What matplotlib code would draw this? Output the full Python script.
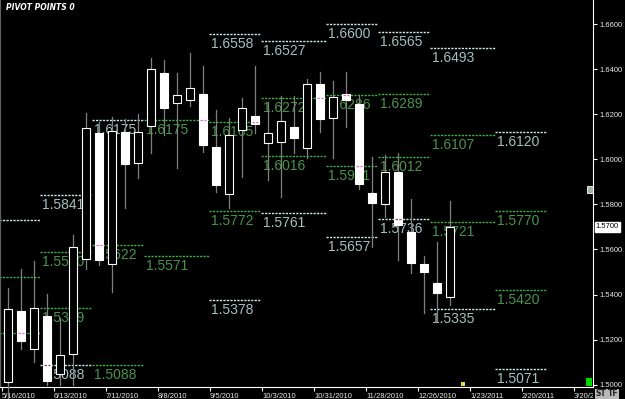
import matplotlib
matplotlib.use("Agg")
import matplotlib.pyplot as plt
import matplotlib.patches as patches
import matplotlib.transforms as mtransforms

# weekly bars, week index 0 = 5/16/2010
opens  = [1.5012, 1.5326, 1.5158, 1.5303, 1.5047, 1.5135, 1.5557, 1.6116, 1.5535, 1.6121,
          1.5983, 1.6147, 1.6382, 1.6250, 1.6263, 1.6289, 1.6055, 1.5845, 1.6130, 1.6192,
          1.6072, 1.6076, 1.6143, 1.6050, 1.6334, 1.6183, 1.6289, 1.6245, 1.5850, 1.5801,
          1.5943, 1.5677, 1.5535, 1.5451, 1.5389]
highs  = [1.5429, 1.5513, 1.5549, 1.5401, 1.5295, 1.5664, 1.6205, 1.6165, 1.6189, 1.6179,
          1.6201, 1.6449, 1.6440, 1.6383, 1.6471, 1.6414, 1.6219, 1.6183, 1.6272, 1.6414,
          1.6254, 1.6281, 1.6281, 1.6356, 1.6387, 1.6347, 1.6387, 1.6285, 1.6009, 1.6018,
          1.6027, 1.5824, 1.5571, 1.5633, 1.5815]
lows   = [1.4920, 1.5158, 1.5101, 1.4999, 1.4999, 1.4999, 1.5512, 1.5531, 1.5411, 1.5784,
          1.5917, 1.6027, 1.6107, 1.5961, 1.6236, 1.6032, 1.5855, 1.5784, 1.5921, 1.6116,
          1.5907, 1.5832, 1.6028, 1.6006, 1.6123, 1.6006, 1.6143, 1.5868, 1.5610, 1.5743,
          1.5553, 1.5496, 1.5318, 1.5278, 1.5354]
closes = [1.5335, 1.5193, 1.5340, 1.5016, 1.5132, 1.5610, 1.6138, 1.5553, 1.6126, 1.5979,
          1.6121, 1.6400, 1.6227, 1.6285, 1.6316, 1.6063, 1.5886, 1.6107, 1.6228, 1.6156,
          1.6116, 1.6169, 1.6094, 1.6334, 1.6179, 1.6276, 1.6262, 1.5890, 1.5806, 1.5943,
          1.5708, 1.5540, 1.5500, 1.5407, 1.5700]

date_labels = ["5/16/2010", "6/13/2010", "7/11/2010", "8/8/2010", "9/5/2010", "10/3/2010",
               "10/31/2010", "11/28/2010", "12/26/2010", "1/23/2011", "2/20/2011", "3/20/2011"]
date_weeks = [0, 4, 8, 12, 16, 20, 24, 28, 32, 36, 40, 44]

# monthly pivot levels (May 2010 .. Feb 2011), spans in week index
month_start = [-1.0, 2.5, 6.5, 10.5, 15.5, 19.5, 24.5, 28.5, 32.5, 37.5]
month_end   = [2.5, 6.5, 10.5, 15.5, 19.5, 24.5, 28.5, 32.5, 37.5, 41.5]
outer_hi = [1.5731, 1.5841, 1.6175, None, 1.6558, 1.6527, 1.6600, 1.6565, 1.6493, 1.6120]
inner_hi = [1.5480, 1.5590, 1.5622, 1.6175, 1.6165, 1.6272, 1.6286, 1.6289, 1.6107, 1.5770]
inner_lo = [1.5229, 1.5339, 1.5088, 1.5571, 1.5772, 1.6016, 1.5971, 1.6012, 1.5721, 1.5420]
outer_lo = [None, 1.5088, None, None, 1.5378, 1.5761, 1.5657, 1.5736, 1.5335, 1.5071]

current_price = 1.5700
y_ticks = [1.50, 1.52, 1.54, 1.56, 1.58, 1.60, 1.62, 1.64, 1.66]

W_LINE, W_TEXT = "#c8ecec", "#a4c0c0"
G_LINE, G_TEXT = "#3cb043", "#4a944a"
PX = 1 / 2254.  # price per pixel

fig = plt.figure(figsize=(6.25, 3.99), dpi=100, facecolor="black")
ax = fig.add_axes([0, 12 / 399., 593 / 625., 387 / 399.], facecolor="black")
x0 = -0.615
ax.set_xlim(x0, 45.0)
ax.set_ylim(1.49898, 1.67068)

levels = []
for m in range(len(month_start)):
    for lv, kind in ((outer_hi[m], "w"), (inner_hi[m], "g"), (inner_lo[m], "g"), (outer_lo[m], "w")):
        if lv is None:
            continue
        levels.append((month_start[m], month_end[m], lv, kind))
        lc, tc = (W_LINE, W_TEXT) if kind == "w" else (G_LINE, G_TEXT)
        ax.plot([month_start[m], month_end[m]], [lv, lv], color=lc, lw=1.0,
                ls=(0, (1.6, 0.9)), zorder=1, solid_capstyle="butt")
        if month_start[m] > x0:
            ax.text(month_start[m] + 0.15, lv - 3 * PX, "%.4f" % lv, color=tc,
                    fontsize=10, family="Liberation Sans", ha="left", va="top", zorder=2)

# candles
for i in range(len(opens)):
    o, h, l, c = opens[i], highs[i], lows[i], closes[i]
    ax.plot([i, i], [l, h], color="#808080", lw=0.9, zorder=3, clip_on=False)
    bear = c < o
    lo, hi = min(o, c), max(o, c)
    ax.add_patch(patches.Rectangle((i - 0.27, lo), 0.54, hi - lo,
                                   facecolor="white" if bear else "black",
                                   edgecolor="white", lw=0.8, zorder=4))
    if bear:
        for s, e, lv, kind in levels:
            if s <= i <= e and lo < lv < hi:
                ax.plot([i - 0.26, i + 0.26], [lv, lv], lw=0.9, ls=(0, (2, 1)), zorder=5,
                        color="#e070e0" if kind == "g" else "#a04040")

# axes styling
ax.yaxis.tick_right()
ax.set_yticks(y_ticks)
ax.set_yticklabels(["%.4f" % v for v in y_ticks])
ax.set_xticks([w - 0.46 for w in date_weeks])
ax.set_xticklabels(date_labels)
for lab in ax.get_xticklabels():
    lab.set_ha("left")
for lab in ax.get_xticklabels() + ax.get_yticklabels():
    lab.set_family("Liberation Sans")
ax.tick_params(axis="both", colors="white", labelcolor="#e8e8e8", labelsize=5.5,
               length=3, width=0.8, pad=1.5)
# last date label is cut by the price scale, as in the terminal
last = ax.get_xticklabels()[-1]
last.set_clip_box(mtransforms.TransformedBbox(mtransforms.Bbox([[0, -1], [1, 1]]), ax.transAxes))
last.set_clip_on(True)
ax.spines["top"].set_visible(False)
ax.spines["right"].set_color("white")
ax.spines["bottom"].set_color("white")
ax.spines["left"].set_color("#606060")
ax.spines["left"].set_linewidth(1.6)

trans = mtransforms.blended_transform_factory(ax.transAxes, ax.transData)
ax.text(1.005, current_price, "%.4f" % current_price, transform=trans, fontsize=5.5,
        family="Liberation Sans", color="black", va="center", ha="left", zorder=10,
        bbox=dict(facecolor="white", edgecolor="white", pad=1.0), clip_on=False)

fig.text(6 / 625., 1 - 7 / 399., "PIVOT POINTS 0", color="white", fontsize=5.5,
         fontweight="bold", style="italic", va="center", ha="left")

# window widgets
fig.patches.append(patches.Rectangle((593.5 / 625., 0), 31.5 / 625., 10 / 399., transform=fig.transFigure,
                                     facecolor="black", edgecolor="none", zorder=5))
fig.text(596 / 625., 5 / 399., "ST", fontsize=5.5, fontweight="bold", color="#202020",
         va="center", zorder=6, bbox=dict(facecolor="#b8b8b8", edgecolor="none", pad=0.5))
fig.text(607.5 / 625., 5 / 399., "TF", fontsize=5.5, fontweight="bold", color="#202020",
         va="center", zorder=6, bbox=dict(facecolor="#b8b8b8", edgecolor="none", pad=0.5))
fig.patches.append(patches.Rectangle((586 / 625., 13 / 399.), 6 / 625., 8 / 399., transform=fig.transFigure,
                                     facecolor="#00dd00", edgecolor="none", zorder=6))
fig.patches.append(patches.Rectangle((461 / 625., 13 / 399.), 4 / 625., 4 / 399., transform=fig.transFigure,
                                     facecolor="#e0e040", edgecolor="none", zorder=6))
fig.patches.append(patches.Rectangle((587 / 625., 206 / 399.), 6 / 625., 7 / 399., transform=fig.transFigure,
                                     facecolor="#a0b8a0", edgecolor="white", lw=0.6, zorder=6))

fig.savefig("out.png", dpi=100, facecolor="black")
